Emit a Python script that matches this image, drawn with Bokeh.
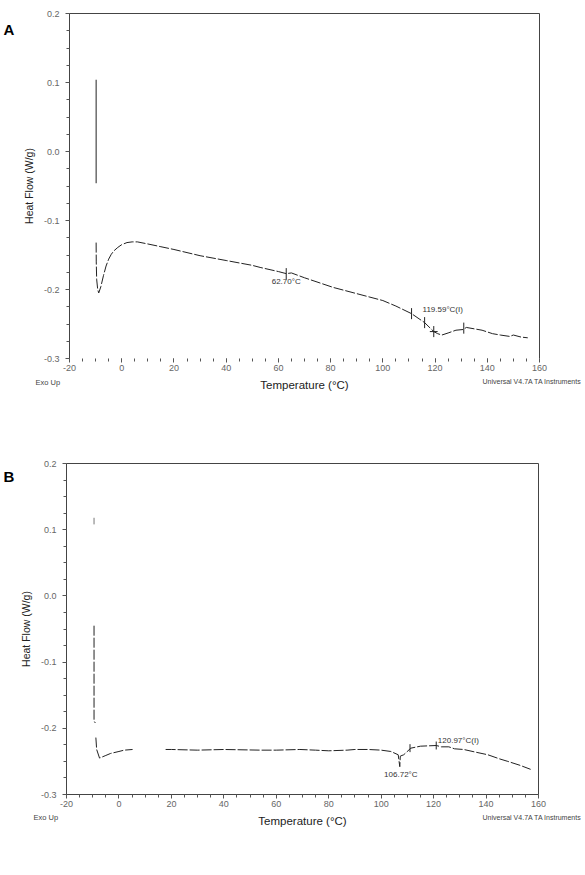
from bokeh.plotting import figure
from bokeh.layouts import column
from bokeh.models import Range1d, FixedTicker, PrintfTickFormatter, Label
from bokeh.embed import file_html
from bokeh.resources import INLINE
import numpy as np

# ---------------- data ----------------
x_ticks = [-20, 0, 20, 40, 60, 80, 100, 120, 140, 160]
y_ticks = [-0.3, -0.2, -0.1, 0.0, 0.1, 0.2]
x_lim = (-20, 160)
y_lim = (-0.3, 0.2)

# Panel A
a_spike_t = [-9.8, -9.8]
a_spike_hf = [0.104, -0.046]
a_t = [-9.8, -9.75, -9.6, -9.2, -8.8, -8.0, -7.0, -6.0, -5.0, -4.0, -3.0, -1.5, 0, 2, 4, 6,
       10, 15, 20, 30, 40, 50, 53, 60, 63, 65, 70, 81, 90, 100, 105, 111, 116, 119.5,
       121, 122.6, 125, 128, 130.7, 132, 135, 138, 142, 145, 148.6, 150, 153, 155.5]
a_hf = [-0.132, -0.160, -0.185, -0.200, -0.205, -0.196, -0.180, -0.166, -0.156, -0.149,
        -0.144, -0.139, -0.135, -0.132, -0.131, -0.131, -0.134, -0.138, -0.142, -0.151,
        -0.158, -0.165, -0.168, -0.174, -0.177, -0.176, -0.183, -0.197, -0.206, -0.216,
        -0.224, -0.235, -0.248, -0.261, -0.264, -0.266, -0.263, -0.259, -0.258, -0.255,
        -0.257, -0.259, -0.264, -0.266, -0.268, -0.266, -0.269, -0.270]
a_mark_t = [63, 111, 116, 119.5, 131]
a_mark_hf = [-0.177, -0.235, -0.248, -0.261, -0.256]

# Panel B
b_top_t = [-9.5, -9.5]
b_top_hf = [0.118, 0.108]
b_t = [-9.5, -9.5, -9.0, np.nan, -8.8, -8.5, -7.4, -5.0, -3.2, 0, 2, 5.2, np.nan,
       17.8, 20, 30, 40, 54, 60, 69, 75, 80, 87, 90, 95, 100, 103.7, 106.5, 107.1,
       107.3, 108.6, 111.3, 115, 121, 123, 125.8, 128, 131.5, 136, 140.7, 145, 148.3,
       153, 157]
b_hf = [-0.045, -0.189, -0.192, np.nan, -0.214, -0.232, -0.245, -0.241, -0.238, -0.235,
        -0.233, -0.232, np.nan, -0.232, -0.232, -0.233, -0.232, -0.233, -0.233, -0.232,
        -0.233, -0.234, -0.233, -0.232, -0.232, -0.233, -0.235, -0.240, -0.258, -0.242,
        -0.240, -0.230, -0.227, -0.226, -0.228, -0.228, -0.231, -0.232, -0.236, -0.240,
        -0.246, -0.250, -0.256, -0.262]
b_mark_t = [111.0, 121.0]
b_mark_hf = [-0.230, -0.226]

FONT = "Liberation Sans"
LINE = "#222222"
FRAME = "#444444"
W = 585


def make_fig(h, left, right, top, bottom):
    """Frame covers the whole canvas; the axes sit at fixed data locations so
    that text outside the plotted box is not clipped."""
    kx = (W - left - right) / (x_lim[1] - x_lim[0])
    ky = (h - top - bottom) / (y_lim[1] - y_lim[0])
    xr = Range1d(x_lim[0] - left / kx, x_lim[1] + right / kx)
    yr = Range1d(y_lim[0] - bottom / ky, y_lim[1] + top / ky)
    p = figure(width=W, height=h, output_backend="svg", toolbar_location=None,
               x_range=xr, y_range=yr,
               min_border_left=0, min_border_right=0,
               min_border_top=0, min_border_bottom=0)
    p.grid.visible = False
    p.outline_line_color = None
    p.xaxis.fixed_location = y_lim[0]
    p.yaxis.fixed_location = x_lim[0]
    p.xaxis.bounds = x_lim
    p.yaxis.bounds = y_lim
    p.xaxis.ticker = FixedTicker(ticks=x_ticks, minor_ticks=list(range(-20, 161, 5)))
    p.yaxis.ticker = FixedTicker(ticks=y_ticks,
                                 minor_ticks=[round(-0.3 + 0.025 * i, 3) for i in range(21)])
    p.xaxis.formatter = PrintfTickFormatter(format="%d")
    p.yaxis.formatter = PrintfTickFormatter(format="%.1f")
    for ax in (p.xaxis[0], p.yaxis[0]):
        ax.major_label_text_font = FONT
        ax.major_label_text_font_size = "9px"
        ax.major_label_text_color = "#666666"
        ax.axis_label_text_font = FONT
        ax.axis_label_text_font_style = "normal"
        ax.axis_label_text_color = "#222222"
        ax.major_tick_line_color = "#555555"
        ax.minor_tick_line_color = "#555555"
        ax.major_tick_out = 4
        ax.major_tick_in = 0
        ax.minor_tick_out = 3
        ax.minor_tick_in = 0
        ax.axis_line_color = FRAME
    p.xaxis.axis_label = "Temperature (°C)"
    p.xaxis.axis_label_text_font_size = "11.5px"
    p.xaxis.axis_label_standoff = 5
    p.xaxis.major_label_standoff = 2
    p.yaxis.axis_label = "Heat Flow (W/g)"
    p.yaxis.axis_label_text_font_size = "10.5px"
    p.yaxis.axis_label_standoff = 6
    p.yaxis.major_label_standoff = 6
    # top and right border of the plotting box
    p.segment(x0=[x_lim[0], x_lim[1]], y0=[y_lim[1], y_lim[0]],
              x1=[x_lim[1], x_lim[1]], y1=[y_lim[1], y_lim[1]],
              line_color=FRAME, line_width=1)
    return p


def add_text(p, x, y, txt, size="8px", align="left", bold=False, color="#333333"):
    p.add_layout(Label(x=x, y=y, text=txt, text_font=FONT, text_font_size=size,
                       text_align=align, text_baseline="middle", text_color=color,
                       text_font_style="bold" if bold else "normal"))


def px_to_data(h, px, py, left, top, bottom, right):
    kx = (W - left - right) / (x_lim[1] - x_lim[0])
    ky = (h - top - bottom) / (y_lim[1] - y_lim[0])
    return x_lim[0] + (px - left) / kx, y_lim[1] - (py - top) / ky


# ---------------- Panel A ----------------
HA, LA, RA, TA, BA = 440, 69, 46, 13, 82
pA = make_fig(HA, LA, RA, TA, BA)
pA.xaxis.axis_line_color = None
pA.line(a_spike_t, a_spike_hf, line_color=LINE, line_width=1)
pA.line(a_t, a_hf, line_color=LINE, line_width=1, line_dash="10 2")
pA.segment(x0=a_mark_t, y0=[v - 0.008 for v in a_mark_hf],
           x1=a_mark_t, y1=[v + 0.008 for v in a_mark_hf], line_color=LINE, line_width=1)
pA.segment(x0=[118.0], y0=[-0.261], x1=[121.0], y1=[-0.261], line_color=LINE, line_width=1)
add_text(pA, 63, -0.188, "62.70°C", align="center")
add_text(pA, 115.2, -0.229, "119.59°C(I)")
x, y = px_to_data(HA, 3, 29, LA, TA, BA, RA)
add_text(pA, x, y, "A", size="15px", bold=True, color="#000000")
x, y = px_to_data(HA, 35, 382, LA, TA, BA, RA)
add_text(pA, x, y, "Exo Up", size="7.5px", color="#444444")
x, y = px_to_data(HA, 482, 381, LA, TA, BA, RA)
add_text(pA, x, y, "Universal V4.7A TA Instruments", size="7px", color="#444444")

# ---------------- Panel B ----------------
HB, LB, RB, TB, BB = 435, 66, 47, 23, 81
pB = make_fig(HB, LB, RB, TB, BB)
pB.segment(x0=[x_lim[0]], y0=[y_lim[0]], x1=[x_lim[1]], y1=[y_lim[0]],
           line_color=FRAME, line_width=1)
pB.line(b_top_t, b_top_hf, line_color="#777777", line_width=1)
pB.line(b_t, b_hf, line_color=LINE, line_width=1, line_dash="10 2")
pB.segment(x0=b_mark_t, y0=[v - 0.006 for v in b_mark_hf],
           x1=b_mark_t, y1=[v + 0.006 for v in b_mark_hf], line_color=LINE, line_width=1)
add_text(pB, 107.5, -0.270, "106.72°C", align="center")
add_text(pB, 121.6, -0.218, "120.97°C(I)")
x, y = px_to_data(HB, 3, 36, LB, TB, BB, RB)
add_text(pB, x, y, "B", size="15px", bold=True, color="#000000")
x, y = px_to_data(HB, 33, 377, LB, TB, BB, RB)
add_text(pB, x, y, "Exo Up", size="7.5px", color="#444444")
x, y = px_to_data(HB, 482, 377, LB, TB, BB, RB)
add_text(pB, x, y, "Universal V4.7A TA Instruments", size="7px", color="#444444")

layout = column(pA, pB, spacing=0)
open("out.html", "w").write(file_html(layout, INLINE))
